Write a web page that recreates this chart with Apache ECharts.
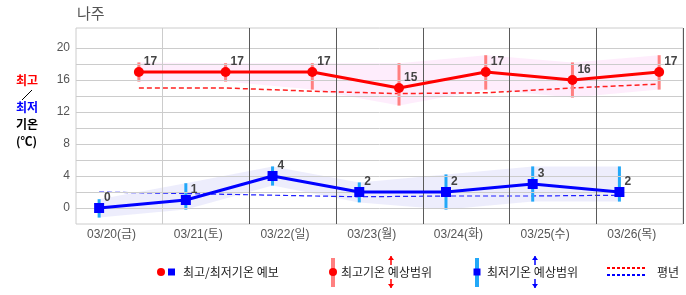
<!DOCTYPE html>
<html>
<head>
<meta charset="utf-8">
<script src="https://cdn.jsdelivr.net/npm/echarts@6/dist/echarts.min.js"></script>
<style>
html,body{margin:0;padding:0;background:#fff;}
#chart{width:686px;height:295px;}
</style>
</head>
<body>
<div id="chart"></div>
<script>
// ---- data ----
const stationName = '나주';
const categories = ['03/20(금)', '03/21(토)', '03/22(일)', '03/23(월)', '03/24(화)', '03/25(수)', '03/26(목)'];
const highTemps = [17, 17, 17, 15, 17, 16, 17];
const lowTemps = [0, 1, 4, 2, 2, 3, 2];
const highRangeMin = [15.8, 15.8, 14.8, 12.8, 14.8, 13.8, 14.8];
const highRangeMax = [18.2, 18.1, 18.1, 18.1, 19.1, 18.2, 19.1];
const lowRangeMin = [-1.2, -0.2, 2.8, 0.7, -0.2, 0.8, 0.8];
const lowRangeMax = [1.1, 3.1, 5.2, 3.2, 4.2, 5.2, 5.2];
const highNormal = [15.0, 15.0, 14.6, 14.3, 14.4, 15.0, 15.5];
const lowNormal = [2.0, 1.8, 1.6, 1.4, 1.5, 1.5, 1.6];
const yTickLabels = [0, 4, 8, 12, 16, 20];
const lowHour = 6.4;   // time of day of the minimum (hours)
const highHour = 17.4; // time of day of the maximum (hours)

// ---- helpers ----
const lowX = categories.map((c, i) => i + lowHour / 24);
const highX = categories.map((c, i) => i + highHour / 24);
const pair = (xs, vs) => xs.map((x, i) => [x, vs[i]]);
const bandData = (xs, lo, hi) => xs.slice(0, -1).map((x, i) => [x, lo[i], hi[i], xs[i + 1], lo[i + 1], hi[i + 1]]);
const rangeData = (xs, lo, hi) => xs.map((x, i) => [x, lo[i], hi[i]]);

const FONT = '"Liberation Sans", Arial, "Noto Sans CJK KR", sans-serif';
const KFONT = '"Noto Sans CJK KR", "Liberation Sans", sans-serif';

function bandRenderer(fill) {
  return function (params, api) {
    const pts = [
      api.coord([api.value(0), api.value(2)]),
      api.coord([api.value(3), api.value(5)]),
      api.coord([api.value(3), api.value(4)]),
      api.coord([api.value(0), api.value(1)])
    ];
    return { type: 'polygon', shape: { points: pts }, style: { fill: fill } };
  };
}
function rangeRenderer(fill) {
  return function (params, api) {
    const top = api.coord([api.value(0), api.value(2)]);
    const bot = api.coord([api.value(0), api.value(1)]);
    return { type: 'rect', shape: { x: top[0] - 1.5, y: top[1], width: 3, height: bot[1] - top[1] }, style: { fill: fill } };
  };
}

const hGrid = [];
for (let v = 0; v <= 20; v += 2) hGrid.push({ yAxis: v, lineStyle: { color: '#cccccc' } });
const vGrid = [{ xAxis: 1, lineStyle: { color: '#cccccc' } }];
for (let d = 2; d <= categories.length; d++) vGrid.push({ xAxis: d, lineStyle: { color: '#5a5a5a' } });

function arrow(x, y1, y2, color, up) {
  const head = up ? y1 : y2;
  const dir = up ? 1 : -1;
  return [
    { type: 'line', shape: { x1: x, y1: y1, x2: x, y2: y2 }, style: { stroke: color, lineWidth: 1.5 }, z: 10 },
    { type: 'polygon', shape: { points: [[x, head], [x - 3, head + 4 * dir], [x + 3, head + 4 * dir]] }, style: { fill: color }, z: 10 }
  ];
}

const legendY = 272;
const graphics = [
  // left axis caption
  { type: 'text', left: 16, top: 74, style: { text: '최고', fill: '#ff0000', font: 'bold 12px ' + KFONT } },
  { type: 'line', shape: { x1: 22, y1: 100, x2: 32, y2: 90 }, style: { stroke: '#000', lineWidth: 1 } },
  { type: 'text', left: 16, top: 101, style: { text: '최저', fill: '#0000ff', font: 'bold 12px ' + KFONT } },
  { type: 'text', left: 16, top: 118, style: { text: '기온', fill: '#000', font: 'bold 12px ' + KFONT } },
  { type: 'text', left: 16, top: 135, style: { text: '(℃)', fill: '#000', font: 'bold 12px ' + KFONT } },
  // legend 1
  { type: 'circle', shape: { cx: 161, cy: legendY, r: 4 }, style: { fill: '#ff0000' } },
  { type: 'rect', shape: { x: 168, y: legendY - 3.5, width: 7, height: 7 }, style: { fill: '#0000ff' } },
  { type: 'text', x: 183, y: legendY, style: { text: '최고/최저기온 예보', fill: '#222', font: '12px ' + KFONT, verticalAlign: 'middle' } },
  // legend 2
  { type: 'rect', shape: { x: 331, y: 258, width: 4, height: 29 }, style: { fill: '#ff8080' } },
  { type: 'circle', shape: { cx: 333, cy: legendY, r: 4 }, style: { fill: '#ff0000' } },
  { type: 'text', x: 341, y: legendY, style: { text: '최고기온 예상범위', fill: '#222', font: '12px ' + KFONT, verticalAlign: 'middle' } },
  ...arrow(391, 256, 265, '#ff0000', true),
  ...arrow(391, 279, 288, '#ff0000', false),
  // legend 3
  { type: 'rect', shape: { x: 475, y: 258, width: 4, height: 29 }, style: { fill: '#22a8f8' } },
  { type: 'rect', shape: { x: 473.5, y: legendY - 3.5, width: 7, height: 7 }, style: { fill: '#0000ff' } },
  { type: 'text', x: 487, y: legendY, style: { text: '최저기온 예상범위', fill: '#222', font: '12px ' + KFONT, verticalAlign: 'middle' } },
  ...arrow(535, 256, 265, '#0000ff', true),
  ...arrow(535, 279, 288, '#0000ff', false),
  // legend 4
  { type: 'line', shape: { x1: 607, y1: 268, x2: 645, y2: 268 }, style: { stroke: '#ff0000', lineWidth: 2, lineDash: [3, 2] } },
  { type: 'line', shape: { x1: 607, y1: 275, x2: 645, y2: 275 }, style: { stroke: '#0000ff', lineWidth: 2, lineDash: [3, 2] } },
  { type: 'text', x: 657, y: legendY, style: { text: '평년', fill: '#222', font: '12px ' + KFONT, verticalAlign: 'middle' } }
];

const labelStyle = { show: true, position: 'right', distance: 0, offset: [0, -10], color: '#444', fontWeight: 'bold', fontSize: 12, fontFamily: FONT };

const option = {
  animation: false,
  title: { text: stationName, left: 77, top: 6, padding: 0, textStyle: { fontSize: 15, fontWeight: 'normal', color: '#555', fontFamily: KFONT } },
  grid: { left: 76, right: 2, top: 28, bottom: 71, show: true, borderColor: '#cccccc', borderWidth: 1, backgroundColor: 'transparent' },
  xAxis: {
    type: 'value', min: 0, max: categories.length, interval: 1,
    axisLine: { show: false }, axisTick: { show: false }, splitLine: { show: false },
    axisLabel: {
      formatter: (v) => (v >= 0 && v < categories.length && Number.isInteger(v)) ? categories[v] : '',
      align: 'left', padding: [0, 0, 0, 11], margin: 5, color: '#555', fontSize: 12, fontFamily: FONT
    }
  },
  yAxis: {
    type: 'value', min: -2, max: 22.5, interval: 2,
    axisLine: { show: false }, axisTick: { show: false }, splitLine: { show: false },
    axisLabel: {
      formatter: (v) => yTickLabels.indexOf(v) >= 0 ? String(v) : '',
      margin: 6, color: '#555', fontSize: 12, fontFamily: FONT
    }
  },
  graphic: graphics,
  series: [
    {
      type: 'line', data: [], z: 1, silent: true,
      markLine: { silent: true, symbol: ['none', 'none'], label: { show: false }, lineStyle: { type: 'solid', width: 1 }, emphasis: { disabled: true }, data: hGrid.concat(vGrid) }
    },
    { type: 'custom', z: 2, silent: true, renderItem: bandRenderer('rgba(250,190,245,0.28)'), data: bandData(highX, highRangeMin, highRangeMax) },
    { type: 'custom', z: 2, silent: true, renderItem: bandRenderer('rgba(150,150,240,0.17)'), data: bandData(lowX, lowRangeMin, lowRangeMax) },
    { type: 'line', z: 3, data: pair(highX, highNormal), showSymbol: false, lineStyle: { color: '#ff2020', width: 1.5, type: [5, 3] } },
    { type: 'line', z: 3, data: pair(lowX, lowNormal), showSymbol: false, lineStyle: { color: '#2020ff', width: 1.2, type: [5, 3] } },
    { type: 'custom', z: 4, silent: true, renderItem: rangeRenderer('#ff8080'), data: rangeData(highX, highRangeMin, highRangeMax) },
    { type: 'custom', z: 4, silent: true, renderItem: rangeRenderer('#22a8f8'), data: rangeData(lowX, lowRangeMin, lowRangeMax) },
    {
      type: 'line', z: 5, data: pair(highX, highTemps), symbol: 'circle', symbolSize: 10,
      itemStyle: { color: '#ff0000' }, lineStyle: { color: '#ff0000', width: 3 }, label: labelStyle
    },
    {
      type: 'line', z: 5, data: pair(lowX, lowTemps), symbol: 'rect', symbolSize: 10,
      itemStyle: { color: '#0000ff' }, lineStyle: { color: '#0000ff', width: 3 }, label: labelStyle
    }
  ]
};

const chart = echarts.init(document.getElementById('chart'), null, { renderer: 'canvas' });
chart.setOption(option);
</script>
</body>
</html>
